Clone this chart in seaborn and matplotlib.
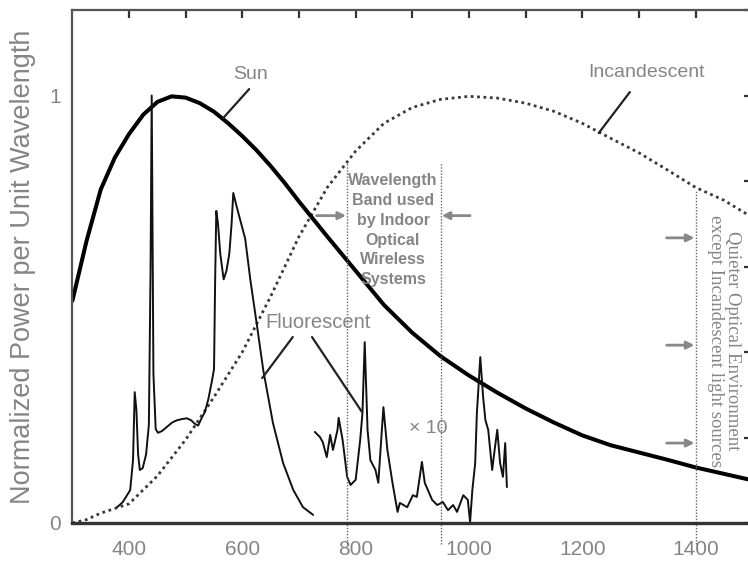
import numpy as np
import pandas as pd
import matplotlib
matplotlib.use("Agg")
import matplotlib.pyplot as plt
import seaborn as sns

# ---------------- data ----------------
sun_nm = [300, 325, 350, 375, 400, 425, 450, 475, 500, 525, 550, 575, 600, 625,
          650, 675, 700, 750, 800, 850, 900, 950, 1000, 1050, 1100, 1150, 1200,
          1250, 1300, 1350, 1400, 1450, 1500]
sun_val = [0.52, 0.66, 0.78, 0.855, 0.91, 0.955, 0.985, 0.998, 0.995, 0.982,
           0.962, 0.935, 0.905, 0.872, 0.835, 0.795, 0.752, 0.67, 0.59, 0.51,
           0.445, 0.39, 0.345, 0.305, 0.268, 0.235, 0.205, 0.182, 0.165, 0.148,
           0.13, 0.115, 0.10]

inc_nm = [300, 325, 350, 400, 450, 500, 550, 600, 650, 700, 750, 800, 850, 900,
          950, 1000, 1050, 1100, 1150, 1200, 1250, 1300, 1350, 1400, 1450, 1500]
inc_val = [0.0, 0.008, 0.023, 0.045, 0.11, 0.195, 0.295, 0.40, 0.53, 0.67, 0.785,
           0.87, 0.935, 0.972, 0.991, 0.998, 0.994, 0.982, 0.963, 0.935, 0.90,
           0.866, 0.826, 0.785, 0.755, 0.715]

# fluorescent, visible part
fl_vis_nm = [379, 389, 402, 407, 410, 413, 416, 419, 424, 430, 435, 438, 440, 443,
             447, 451, 458, 467, 476, 484, 493, 502, 510, 516, 522, 528, 534, 540,
             546, 550, 552, 554, 557, 561, 567, 572, 577, 581, 584, 590, 596, 605,
             614, 626, 637, 654, 672, 690, 707, 725]
fl_vis_val = [0.037, 0.049, 0.077, 0.147, 0.306, 0.264, 0.16, 0.124, 0.128, 0.16,
              0.23, 0.60, 1.0, 0.35, 0.22, 0.211, 0.215, 0.225, 0.235, 0.24, 0.243,
              0.245, 0.24, 0.232, 0.228, 0.245, 0.26, 0.29, 0.33, 0.36, 0.57, 0.73,
              0.70, 0.63, 0.57, 0.59, 0.63, 0.70, 0.772, 0.74, 0.71, 0.665, 0.57,
              0.46, 0.357, 0.234, 0.14, 0.077, 0.037, 0.019]

# fluorescent, infrared part (x10)
fl_ir_nm = [728, 737, 742, 749, 755, 760, 768, 770, 777, 785, 791, 800, 808, 812,
            816, 821, 826, 835, 840, 849, 856, 865, 874, 878, 891, 901, 908, 917,
            922, 935, 944, 954, 963, 972, 979, 990, 998, 1002, 1006, 1011, 1014,
            1020, 1025, 1029, 1034, 1041, 1046, 1050, 1055, 1060, 1064, 1067]
fl_ir_val = [0.213, 0.201, 0.189, 0.154, 0.206, 0.171, 0.218, 0.246, 0.194, 0.108,
             0.089, 0.101, 0.194, 0.257, 0.423, 0.218, 0.147, 0.124, 0.094, 0.271,
             0.171, 0.094, 0.026, 0.047, 0.037, 0.065, 0.061, 0.143, 0.094, 0.054,
             0.042, 0.049, 0.030, 0.042, 0.026, 0.065, 0.054, 0.002, 0.077, 0.140,
             0.257, 0.388, 0.295, 0.241, 0.218, 0.124, 0.178, 0.218, 0.140, 0.108,
             0.187, 0.084]

band_edges = [785, 950]
quiet_edge = 1400

x_ticks = [400, 500, 600, 700, 800, 900, 1000, 1100, 1200, 1300, 1400]
x_tick_labels = ["400", "", "600", "", "800", "", "1000", "", "1200", "", "1400"]
y_ticks = [0, 0.2, 0.4, 0.6, 0.8, 1.0, 1.2]
y_tick_labels = ["0", "", "", "", "", "1", ""]

# ---------------- figure ----------------
sns.set_theme(style="white")
plt.rcParams["font.family"] = ["Liberation Sans", "DejaVu Sans"]

W, H = 748, 566
fig = plt.figure(figsize=(W / 100, H / 100), dpi=100)
left_px, right_px, top_px, bot_px = 72.4, 752.2, 10, 523
ax = fig.add_axes([left_px / W, (H - bot_px) / H, (right_px - left_px) / W,
                   (bot_px - top_px) / H])

TXT = "#858585"
sun_df = pd.DataFrame({"nm": sun_nm, "val": sun_val})
inc_df = pd.DataFrame({"nm": inc_nm, "val": inc_val})
vis_df = pd.DataFrame({"nm": fl_vis_nm, "val": fl_vis_val})
ir_df = pd.DataFrame({"nm": fl_ir_nm, "val": fl_ir_val})

sns.lineplot(data=inc_df, x="nm", y="val", ax=ax, color="#3a3a3a", lw=2.0,
             linestyle=(0, (1, 1.3)), estimator=None, sort=False)
sns.lineplot(data=sun_df, x="nm", y="val", ax=ax, color="black", lw=2.9,
             estimator=None, sort=False)
sns.lineplot(data=vis_df, x="nm", y="val", ax=ax, color="#111111", lw=1.4,
             estimator=None, sort=False)
sns.lineplot(data=ir_df, x="nm", y="val", ax=ax, color="#111111", lw=1.4,
             estimator=None, sort=False)

ax.set_xlim(300, 1500)
ax.set_ylim(0, 1.2)

# vertical dotted lines
for xe in band_edges:
    ax.plot([xe, xe], [-0.05, 0.842], color="#666666", lw=1.0,
            linestyle=(0, (1, 1.2)), clip_on=False)
ax.plot([quiet_edge, quiet_edge], [-0.05, 0.779], color="#666666", lw=1.0,
        linestyle=(0, (1, 1.2)), clip_on=False)

# arrows
ap = dict(arrowstyle="-|>", color="#888888", lw=2.0, mutation_scale=11,
          shrinkA=0, shrinkB=0)
ax.annotate("", xy=(783, 0.719), xytext=(731, 0.719), arrowprops=ap)
ax.annotate("", xy=(952, 0.719), xytext=(1002, 0.719), arrowprops=ap)
for yy in [0.667, 0.416, 0.187]:
    ax.annotate("", xy=(1398, yy), xytext=(1349, yy), arrowprops=ap)

# pointer lines
pl = dict(color="#222222", lw=1.6)
ax.plot([612, 566], [1.015, 0.947], **pl)
ax.plot([1284, 1229], [1.008, 0.912], **pl)
ax.plot([689, 635], [0.435, 0.339], **pl)
ax.plot([723, 811], [0.435, 0.26], **pl)

# labels
ax.text(614, 1.048, "Sun", color=TXT, fontsize=14, ha="center", va="center")
ax.text(1314, 1.053, "Incandescent", color=TXT, fontsize=14, ha="center", va="center")
ax.text(733, 0.468, "Fluorescent", color=TXT, fontsize=14.5, ha="center", va="center")
ax.text(928, 0.222, "\u00d7 10", color=TXT, fontsize=14, ha="center", va="center")
ax.text(866, 0.685, "Wavelength\nBand used\nby Indoor\nOptical\nWireless\nSystems",
        color=TXT, fontsize=11.5, fontweight="bold", ha="center", va="center",
        linespacing=1.4)
ax.text(1450, 0.426, "Quieter Optical Environment\nexcept Incandescent light sources",
        color=TXT, fontsize=13.5, family=["Liberation Serif", "DejaVu Serif"],
        rotation=270, ha="center", va="center", linespacing=1.0,
        multialignment="center")

# axes styling
ax.set_xticks(x_ticks)
ax.set_xticklabels(x_tick_labels)
ax.set_yticks(y_ticks)
ax.set_yticklabels(y_tick_labels)
ax.tick_params(axis="both", direction="in", length=6, width=1.6, color="#333333",
               labelcolor=TXT, labelsize=15, top=True, right=True)
ax.tick_params(axis="x", pad=12)
ax.tick_params(axis="y", pad=8)
for s in ["left", "top", "right"]:
    ax.spines[s].set_color("#555555")
    ax.spines[s].set_linewidth(1.6)
ax.spines["bottom"].set_color("#333333")
ax.spines["bottom"].set_linewidth(2.4)

ax.set_xlabel("")
ax.set_ylabel("Normalized Power per Unit Wavelength", color=TXT, fontsize=19.5,
              labelpad=10)

fig.savefig("out.png", dpi=100)
